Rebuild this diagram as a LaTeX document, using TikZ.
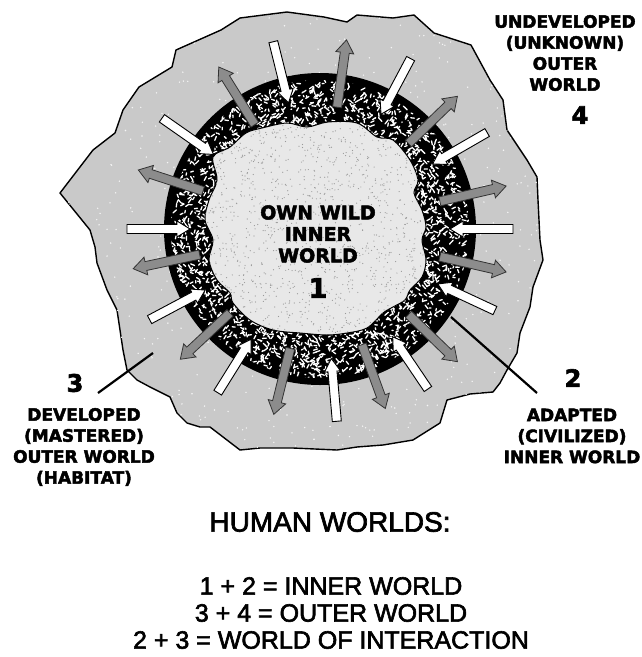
\documentclass[tikz,border=0pt]{standalone}
\usepackage{fontspec}
\setmainfont{Liberation Sans}[FakeBold=2.4]
\newfontfamily\labfont{DejaVu Sans Bold}[FakeBold=2.6]
\begin{document}
\begin{tikzpicture}[x=1pt,y=-1pt,
    region/.style={draw=black,line width=1.4pt,line join=round},
    inarrow/.style={draw=black,fill=white,line width=0.9pt},
    outarrow/.style={draw=black!80,fill=black!45,line width=0.8pt},
    speck/.style={white,line width=1.3pt,line cap=round},
    leader/.style={line width=2.2pt},
    lab/.style={font=\labfont\fontsize{17}{21}\selectfont,align=center},
    num/.style={font=\labfont\fontsize{24}{28}\selectfont},
    sumtext/.style={font=\fontsize{25}{27}\selectfont,align=center}]

    \useasboundingbox (0,0) rectangle (641,657);
    \coordinate (ctr) at (320,229);
    \pgfmathsetseed{42}

    % developed outer world
    \draw[region,fill=black!21,save path=\outerpath] (176,50) -- (221,30) -- (240,18) -- (287,12) -- (324,17) -- (347,22)
        -- (357,15) -- (393,18) -- (414,15) -- (434,33) -- (471,45) -- (490,80) -- (503,100)
        -- (507,130) -- (527,160) -- (537,177) -- (538,200) -- (540,240) -- (543,260) -- (533,287)
        -- (530,307) -- (520,333) -- (517,353) -- (507,370) -- (500,383) -- (493,392) -- (470,394)
        -- (447,400) -- (440,423) -- (413,440) -- (383,445) -- (357,447) -- (337,450) -- (293,448)
        -- (260,448) -- (240,450) -- (210,427) -- (200,427) -- (187,423) -- (177,413) -- (170,397)
        -- (150,387) -- (137,380) -- (127,370) -- (123,350) -- (120,330) -- (117,310) -- (107,290)
        -- (97,263) -- (95,247) -- (90,230) -- (60,193) -- (93,150) -- (115,133) -- (123,110)
        -- (139,87) -- (172,67) -- cycle;
    \begin{scope}
        \clip[use path=\outerpath];
        \foreach \i in {1,...,700}
            \fill[white!80!black!20] (62+482*rnd,12+438*rnd) circle (0.8);
    \end{scope}

    % adapted ring
    \fill (ctr) circle (156);
    \begin{scope}
        \clip (ctr) circle (149);
        \foreach \i in {1,...,2600} {
            \pgfmathsetmacro\ang{360*rnd}
            \pgfmathsetmacro\rad{88+62*rnd}
            \draw[speck,shift={(ctr)}] (\ang:\rad) -- ++(8*rnd-4,8*rnd-4);
        }
    \end{scope}

    % own wild inner world
    \draw[fill=black!9,line width=1pt,save path=\wildpath] plot[smooth cycle,tension=0.55] coordinates {
        (230,147) (246,133) (262,128) (287,123) (307,127) (328,122) (357,123) (377,137)
        (393,140) (410,160) (418,180) (414,193) (422,210) (426,227) (422,240) (426,260)
        (422,277) (410,290) (405,300) (393,307) (383,313) (367,328) (347,333) (327,335)
        (300,333) (273,330) (250,320) (233,303) (230,293) (217,280) (209,260) (213,240)
        (205,220) (209,200) (217,180) (213,157)};
    \begin{scope}
        \clip[use path=\wildpath];
        \foreach \i in {1,...,1400}
            \fill[black!40] (205+222*rnd,122+214*rnd) circle (0.6);
    \end{scope}

    % arrows in and out
    \foreach \a in {104,62,30,0,-25,-56,-85,-122,-152,180,145}
        \draw[inarrow,shift={(ctr)},rotate=\a] (193,-4.5) -- (143,-4.5) -- (143,-8) -- (130,0)
            -- (143,8) -- (143,4.5) -- (193,4.5) -- cycle;
    \foreach \a in {162,122,82,44,13,-13,-44,-70,-104,-137,-168}
        \draw[outarrow,shift={(ctr)},rotate=\a] (123,-4.5) -- (178,-4.5) -- (178,-9) -- (191,0)
            -- (178,9) -- (178,4.5) -- (123,4.5) -- cycle;

    % labels
    \node[lab] (outer) at (565,53) {UNDEVELOPED\\(UNKNOWN)\\OUTER\\WORLD};
    \node[num] (four) at (580,115) {4};
    \node[lab,font=\labfont\fontsize{19}{21.5}\selectfont] (wild) at (318,234) {OWN WILD\\INNER\\WORLD};
    \node[num,font=\labfont\fontsize{27}{30}\selectfont] (one) at (318,288) {1};
    \node[num] (two) at (573,378) {2};
    \node[lab] (adapted) at (572,436) {ADAPTED\\(CIVILIZED)\\INNER WORLD};
    \node[num] (three) at (75,383) {3};
    \node[lab] (developed) at (84,447) {DEVELOPED\\(MASTERED)\\OUTER WORLD\\(HABITAT)};
    \node[font=\fontsize{28}{30}\selectfont] (human) at (330,522) {HUMAN WORLDS:};
    \node[sumtext] (sums) at (331,613) {1 + 2 = INNER WORLD\\3 + 4 = OUTER WORLD\\2 + 3 = WORLD OF INTERACTION};

    % leaders
    \coordinate (threea) at (98,393);
    \coordinate (threeb) at (153,353);
    \coordinate (twoa) at (451,317);
    \coordinate (twob) at (537,393);
    \draw[leader] (threea) -- (threeb);
    \draw[leader] (twoa) -- (twob);
\end{tikzpicture}
\end{document}
